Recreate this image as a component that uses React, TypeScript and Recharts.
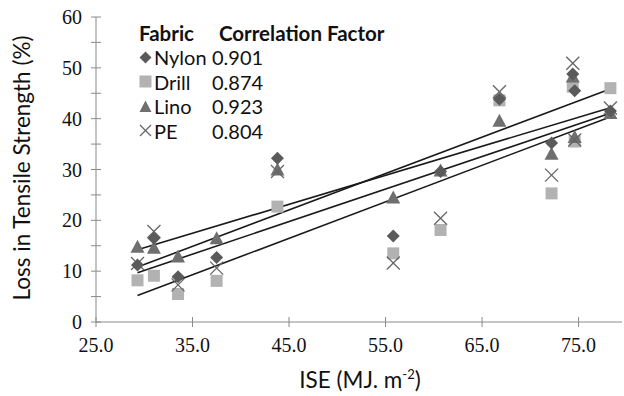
import React from 'react';
import { ScatterChart, Scatter, XAxis, YAxis, ReferenceLine } from 'recharts';

// ISE values (MJ. m^-2)
const ise = [29.3, 31.0, 33.5, 37.5, 43.8, 55.8, 60.7, 66.8, 72.2, 74.4, 74.6, 78.3];
// Loss in tensile strength (%)
const nylon = [11.2, 16.5, 8.9, 12.7, 32.2, 16.9, 29.6, 43.8, 35.2, 48.8, 45.5, 41.5];
const drill = [8.2, 9.1, 5.5, 8.1, 22.7, 13.5, 18.1, 43.6, 25.3, 46.3, 35.5, 46.0];
const lino = [14.8, 14.6, 12.9, 16.5, 30.0, 24.5, 29.8, 39.6, 33.1, 48.3, 36.4, 41.1];
const pe = [11.5, 17.8, 7.3, 10.6, 29.6, 11.6, 20.4, 45.3, 28.9, 50.9, 35.8, 42.1];

const fabrics = ['Nylon', 'Drill', 'Lino', 'PE'];
const correlation = ['0.901', '0.874', '0.923', '0.804'];

// trend lines: start / end values
const trendX = [29.3, 78.2];
const trendStart = [10.8, 5.2, 14.2, 9.7];
const trendEnd = [45.8, 40.3, 42.1, 41.0];

const xTicks = [25, 35, 45, 55, 65, 75];
const yTicks = [0, 5, 10, 15, 20, 25, 30, 35, 40, 45, 50, 55, 60];

const toPts = (ys: number[]) => ys.map((y, i) => ({ x: ise[i], y }));

const C_NYLON = '#5a5a5a';
const C_DRILL = '#b2b2b2';
const C_LINO = '#6f6f6f';
const C_PE = '#666666';

const Diamond = (p: any) => {
  const { cx, cy } = p;
  const r = 6.5;
  return <polygon points={`${cx},${cy - r} ${cx + r},${cy} ${cx},${cy + r} ${cx - r},${cy}`} fill={C_NYLON} />;
};
const Square = (p: any) => {
  const { cx, cy } = p;
  return <rect x={cx - 6} y={cy - 6} width={12} height={12} fill={C_DRILL} />;
};
const Triangle = (p: any) => {
  const { cx, cy } = p;
  return <polygon points={`${cx},${cy - 7} ${cx + 7},${cy + 6} ${cx - 7},${cy + 6}`} fill={C_LINO} />;
};
const XMark = (p: any) => {
  const { cx, cy } = p;
  const r = 6.5;
  return (
    <g stroke={C_PE} strokeWidth={1.3}>
      <line x1={cx - r} y1={cy - r} x2={cx + r} y2={cy + r} />
      <line x1={cx - r} y1={cy + r} x2={cx + r} y2={cy - r} />
    </g>
  );
};

const serif = "'Liberation Serif', serif";
const Y_MARGIN = 14;
const YTick = (p: any) => {
  const { x, y, payload } = p;
  const ax = x + Y_MARGIN;
  const v = payload.value;
  return (
    <g>
      <line x1={ax - 5} x2={ax + 5} y1={y} y2={y} stroke="#8a8a8a" strokeWidth={1} />
      {v % 10 === 0 && (
        <text x={x} y={y} dy={7} textAnchor="end" fontFamily={serif} fontSize={20} fill="#111">
          {v}
        </text>
      )}
    </g>
  );
};
const X_MARGIN = 14;
const XTick = (p: any) => {
  const { x, y, payload } = p;
  const ay = y - X_MARGIN;
  return (
    <g>
      <line x1={x} x2={x} y1={ay - 5} y2={ay + 5} stroke="#8a8a8a" strokeWidth={1} />
      <text x={x} y={y} dy={16} textAnchor="middle" fontFamily={serif} fontSize={20} fill="#111">
        {payload.value.toFixed(1)}
      </text>
    </g>
  );
};

const LegendMarker = ({ i }: { i: number }) => {
  const s = 13;
  return (
    <svg width={s} height={s} style={{ marginRight: 2 }}>
      {i === 0 && <polygon points="6.5,0.5 12.5,6.5 6.5,12.5 0.5,6.5" fill={C_NYLON} />}
      {i === 1 && <rect x={0.5} y={0.5} width={12} height={12} fill={C_DRILL} />}
      {i === 2 && <polygon points="6.5,0.5 12.5,12 0.5,12" fill={C_LINO} />}
      {i === 3 && (
        <g stroke={C_PE} strokeWidth={1.2}>
          <line x1={1} y1={1} x2={12} y2={12} />
          <line x1={1} y1={12} x2={12} y2={1} />
        </g>
      )}
    </svg>
  );
};

const sans = "Lato, 'Liberation Sans', sans-serif";

export default function App() {
  return (
    <div style={{ position: 'absolute', left: 0, top: 0, width: 624, height: 396, background: '#fff', overflow: 'hidden' }}>
      <ScatterChart width={624} height={396} margin={{ top: 17, right: 2, bottom: 0, left: 0 }}>
        <XAxis
          type="number"
          dataKey="x"
          domain={[25, 79.5]}
          ticks={xTicks}
          interval={0}
          allowDataOverflow
          height={74}
          tickSize={0}
          tickMargin={X_MARGIN}
          tick={<XTick />}
          axisLine={{ stroke: '#8a8a8a' }}
          tickLine={false}
        />
        <YAxis
          type="number"
          dataKey="y"
          domain={[0, 60]}
          ticks={yTicks}
          interval={0}
          width={96}
          tickSize={0}
          tickMargin={Y_MARGIN}
          tick={<YTick />}
          axisLine={{ stroke: '#8a8a8a' }}
          tickLine={false}
        />
        <Scatter data={toPts(drill)} shape={<Square />} isAnimationActive={false} />
        <Scatter data={toPts(lino)} shape={<Triangle />} isAnimationActive={false} />
        <Scatter data={toPts(pe)} shape={<XMark />} isAnimationActive={false} />
        <Scatter data={toPts(nylon)} shape={<Diamond />} isAnimationActive={false} />
        {trendStart.map((s, i) => (
          <ReferenceLine
            key={i}
            segment={[
              { x: trendX[0], y: s },
              { x: trendX[1], y: trendEnd[i] },
            ]}
            stroke="#1a1a1a"
            strokeWidth={1.6}
          />
        ))}
      </ScatterChart>
      {/* Y axis title */}
      <div
        style={{
          position: 'absolute',
          left: 21,
          top: 168,
          transform: 'translate(-50%, -50%) rotate(-90deg)',
          whiteSpace: 'nowrap',
          fontFamily: sans,
          fontSize: 22.5,
          color: '#111',
        }}
      >
        Loss in Tensile Strength (%)
      </div>
      {/* X axis title */}
      <div
        style={{
          position: 'absolute',
          left: 360,
          top: 379,
          transform: 'translate(-50%, -50%)',
          whiteSpace: 'nowrap',
          fontFamily: sans,
          fontSize: 22.5,
          color: '#111',
        }}
      >
        ISE (MJ. m<sup style={{ fontSize: 13 }}>-2</sup>)
      </div>
      {/* Legend */}
      <div style={{ position: 'absolute', left: 139, top: 21, fontFamily: sans, color: '#111' }}>
        <div style={{ fontWeight: 'bold', fontSize: 20.5, height: 24, whiteSpace: 'nowrap' }}>
          <span style={{ display: 'inline-block', width: 80 }}>Fabric</span>
          <span>Correlation Factor</span>
        </div>
        {fabrics.map((f, i) => (
          <div key={f} style={{ fontSize: 20, height: 24.5, display: 'flex', alignItems: 'center', whiteSpace: 'nowrap' }}>
            <LegendMarker i={i} />
            <span style={{ display: 'inline-block', width: 58 }}>{f}</span>
            <span>{correlation[i]}</span>
          </div>
        ))}
      </div>
    </div>
  );
}
